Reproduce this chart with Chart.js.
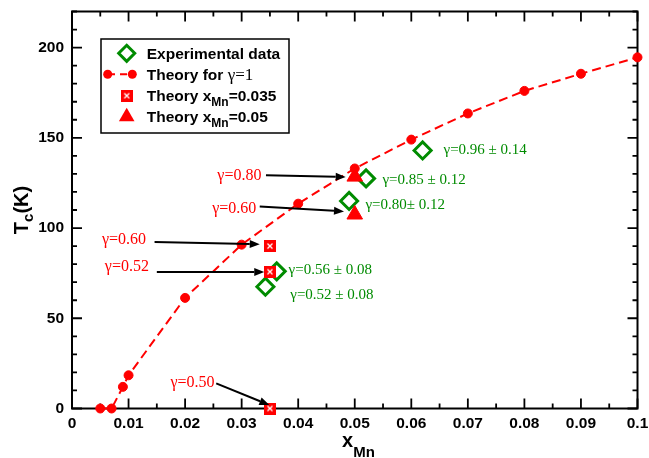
<!DOCTYPE html>
<html lang="en">
<head>
<meta charset="UTF-8">
<title>Tc vs xMn</title>
<script src="https://cdn.jsdelivr.net/npm/chart.js@4.4.1/dist/chart.umd.min.js"></script>
<style>
  body { margin: 0; background: #fff; }
</style>
</head>
<body>
<canvas id="tcChart" width="649" height="458"></canvas>
<script>
// theory for gamma = 1
const theoryX  = [0.005, 0.007, 0.009, 0.01, 0.02, 0.03, 0.04, 0.05, 0.06, 0.07, 0.08, 0.09, 0.1];
const theoryTc = [0, 0, 12, 18.4, 61.3, 90.8, 113.5, 133, 149, 163.5, 176, 185.5, 194.6];
// experimental data
const expX  = [0.0342, 0.0362, 0.049, 0.052, 0.062];
const expTc = [67.5, 76, 115, 127.5, 143];
// theory at fixed xMn
const x035X  = [0.035, 0.035, 0.035];
const x035Tc = [90, 75.8, 0];
const x05X   = [0.05, 0.05];
const x05Tc  = [128.5, 107.5];
// axis range / ticks
const xMin = 0, xMax = 0.1, xStep = 0.005;
const yMin = 0, yMax = 220, yStep = 10;

// annotations (data coordinates)
const arrows = [
  { from: [0.0343, 129.3], to: [0.0484, 128.3] },
  { from: [0.0332, 112.0], to: [0.0481, 109.2] },
  { from: [0.0146, 92.3],  to: [0.0332, 91.0] },
  { from: [0.0150, 75.7],  to: [0.0340, 75.7] },
  { from: [0.0255, 13.9],  to: [0.0349, 1.9] }
];
const redNotes = [
  { text: 'γ=0.80', x: 0.0335, y: 129.2 },
  { text: 'γ=0.60', x: 0.0326, y: 110.5 },
  { text: 'γ=0.60', x: 0.0131, y: 93.3 },
  { text: 'γ=0.52', x: 0.0136, y: 78.5 },
  { text: 'γ=0.50', x: 0.0252, y: 14.5 }
];
const greenNotes = [
  { text: 'γ=0.96 ± 0.14', x: 0.0657, y: 143 },
  { text: 'γ=0.85 ± 0.12', x: 0.0549, y: 126.5 },
  { text: 'γ=0.80± 0.12',  x: 0.0519, y: 112.6 },
  { text: 'γ=0.56 ± 0.08', x: 0.0383, y: 76.7 },
  { text: 'γ=0.52 ± 0.08', x: 0.0386, y: 62.8 }
];

const RED = '#ff0000';
const GREEN = '#008b00';
const SANS = "'Liberation Sans', Arial, sans-serif";
const SERIF = "'Liberation Serif', 'Times New Roman', serif";

function pts(xs, ys) {
  return xs.map((x, i) => ({ x: x, y: ys[i] }));
}

// little red square with white cross pattern
function squareMark(size) {
  const c = document.createElement('canvas');
  c.width = size; c.height = size;
  const g = c.getContext('2d');
  g.fillStyle = RED;
  g.fillRect(0, 0, size, size);
  g.strokeStyle = '#fff';
  g.lineWidth = 1.3;
  g.beginPath();
  g.moveTo(3.5, 3.5); g.lineTo(size - 3.5, size - 3.5);
  g.moveTo(size - 3.5, 3.5); g.lineTo(3.5, size - 3.5);
  g.stroke();
  return c;
}
const sqImg = squareMark(12);

// draw a run of text pieces (for subscripts)
function drawRich(ctx, parts, x, y) {
  let cx = x;
  parts.forEach(p => {
    ctx.font = p.font;
    ctx.fillText(p.t, cx, y + (p.dy || 0));
    cx += ctx.measureText(p.t).width;
  });
  return cx - x;
}
function richWidth(ctx, parts) {
  let w = 0;
  parts.forEach(p => { ctx.font = p.font; w += ctx.measureText(p.t).width; });
  return w;
}

// frame + inward ticks on all four sides
const frameTicks = {
  id: 'frameTicks',
  beforeDatasetsDraw(chart) {
    const ctx = chart.ctx, a = chart.chartArea;
    const xs = chart.scales.x, ys = chart.scales.y;
    ctx.save();
    ctx.strokeStyle = '#000';
    ctx.lineWidth = 2;
    ctx.strokeRect(a.left, a.top, a.right - a.left, a.bottom - a.top);
    ctx.lineWidth = 1.8;
    ctx.beginPath();
    xs.ticks.forEach(t => {
      const px = xs.getPixelForValue(t.value);
      const len = t.label !== '' ? 10 : 5;
      ctx.moveTo(px, a.bottom); ctx.lineTo(px, a.bottom - len);
      ctx.moveTo(px, a.top); ctx.lineTo(px, a.top + len);
    });
    ys.ticks.forEach(t => {
      const py = ys.getPixelForValue(t.value);
      const len = t.label !== '' ? 10 : 5;
      ctx.moveTo(a.left, py); ctx.lineTo(a.left + len, py);
      ctx.moveTo(a.right, py); ctx.lineTo(a.right - len, py);
    });
    ctx.stroke();
    ctx.restore();
  }
};

// arrows, labels, legend, axis titles
const extras = {
  id: 'extras',
  afterDraw(chart) {
    const ctx = chart.ctx;
    const xs = chart.scales.x, ys = chart.scales.y;
    ctx.save();

    // arrows
    ctx.strokeStyle = '#000';
    ctx.fillStyle = '#000';
    ctx.lineWidth = 2;
    arrows.forEach(ar => {
      const x1 = xs.getPixelForValue(ar.from[0]), y1 = ys.getPixelForValue(ar.from[1]);
      const x2 = xs.getPixelForValue(ar.to[0]),   y2 = ys.getPixelForValue(ar.to[1]);
      const ang = Math.atan2(y2 - y1, x2 - x1);
      const hl = 10, hw = 4;
      const bx = x2 - hl * Math.cos(ang), by = y2 - hl * Math.sin(ang);
      ctx.beginPath();
      ctx.moveTo(x1, y1); ctx.lineTo(bx, by);
      ctx.stroke();
      ctx.beginPath();
      ctx.moveTo(x2, y2);
      ctx.lineTo(bx + hw * Math.sin(ang), by - hw * Math.cos(ang));
      ctx.lineTo(bx - hw * Math.sin(ang), by + hw * Math.cos(ang));
      ctx.closePath();
      ctx.fill();
    });

    // notes
    ctx.textBaseline = 'middle';
    ctx.font = '16px ' + SERIF;
    ctx.fillStyle = RED;
    ctx.textAlign = 'right';
    redNotes.forEach(n => ctx.fillText(n.text, xs.getPixelForValue(n.x), ys.getPixelForValue(n.y)));
    ctx.font = '15px ' + SERIF;
    ctx.fillStyle = GREEN;
    ctx.textAlign = 'left';
    greenNotes.forEach(n => ctx.fillText(n.text, xs.getPixelForValue(n.x), ys.getPixelForValue(n.y)));

    // legend
    ctx.fillStyle = '#fff';
    ctx.fillRect(101, 39, 188, 94);
    ctx.strokeStyle = '#000';
    ctx.lineWidth = 1.5;
    ctx.strokeRect(101, 39, 188, 94);
    const mx = 126.7, tx = 146.7;
    const rows = [53.3, 74.3, 95.7, 116.7];
    const bold = 'bold 15.5px ' + SANS;
    const sub = 'bold 12px ' + SANS;
    // diamond
    ctx.strokeStyle = GREEN;
    ctx.lineWidth = 3;
    ctx.beginPath();
    ctx.moveTo(mx, rows[0] - 8); ctx.lineTo(mx + 8, rows[0]);
    ctx.lineTo(mx, rows[0] + 8); ctx.lineTo(mx - 8, rows[0]);
    ctx.closePath(); ctx.stroke();
    // dashed line with circles
    ctx.strokeStyle = RED;
    ctx.lineWidth = 2;
    ctx.setLineDash([7, 5]);
    ctx.beginPath(); ctx.moveTo(108, rows[1]); ctx.lineTo(132, rows[1]); ctx.stroke();
    ctx.setLineDash([]);
    ctx.fillStyle = RED;
    [107.7, 132.3].forEach(cx => { ctx.beginPath(); ctx.arc(cx, rows[1], 4.5, 0, Math.PI * 2); ctx.fill(); });
    // square
    ctx.drawImage(sqImg, mx - 6, rows[2] - 6);
    // triangle
    ctx.beginPath();
    ctx.moveTo(mx, rows[3] - 9);
    ctx.lineTo(mx + 7.8, rows[3] + 4.5);
    ctx.lineTo(mx - 7.8, rows[3] + 4.5);
    ctx.closePath(); ctx.fill();

    ctx.fillStyle = '#000';
    ctx.textAlign = 'left';
    ctx.textBaseline = 'alphabetic';
    drawRich(ctx, [{ t: 'Experimental data', font: bold }], tx, rows[0] + 6);
    drawRich(ctx, [{ t: 'Theory for ', font: bold }, { t: 'γ=1', font: '17px ' + SERIF }], tx, rows[1] + 6);
    drawRich(ctx, [{ t: 'Theory x', font: bold }, { t: 'Mn', font: sub, dy: 5 }, { t: '=0.035', font: bold }], tx, rows[2] + 5);
    drawRich(ctx, [{ t: 'Theory x', font: bold }, { t: 'Mn', font: sub, dy: 5 }, { t: '=0.05', font: bold }], tx, rows[3] + 5);

    // x axis title
    const xt = [{ t: 'x', font: 'bold 20px ' + SANS }, { t: 'Mn', font: 'bold 15px ' + SANS, dy: 10 }];
    const xw = richWidth(ctx, xt);
    const a = chart.chartArea;
    drawRich(ctx, xt, 358.5 - xw / 2, 447);

    // y axis title
    const yt = [{ t: 'T', font: 'bold 20px ' + SANS }, { t: 'c', font: 'bold 15px ' + SANS, dy: 5 }, { t: '(K)', font: 'bold 20px ' + SANS }];
    const yw = richWidth(ctx, yt);
    ctx.translate(27.5, (a.top + a.bottom) / 2 + yw / 2);
    ctx.rotate(-Math.PI / 2);
    drawRich(ctx, yt, 0, 0);

    ctx.restore();
  }
};

const tickFont = { family: SANS, weight: 'bold', size: 15.5 };

new Chart(document.getElementById('tcChart'), {
  type: 'scatter',
  data: {
    datasets: [
      {
        label: 'Theory for γ=1',
        data: pts(theoryX, theoryTc),
        showLine: true,
        tension: 0,
        borderColor: RED,
        borderWidth: 2,
        borderDash: [9, 5],
        pointStyle: 'circle',
        pointRadius: 4.5,
        pointBackgroundColor: RED,
        pointBorderColor: RED,
        pointBorderWidth: 1,
        clip: false,
        order: 4
      },
      {
        label: 'Experimental data',
        data: pts(expX, expTc),
        pointStyle: 'rectRot',
        pointRadius: 8.5,
        pointBorderWidth: 3,
        pointBorderColor: GREEN,
        pointBackgroundColor: 'rgba(0,0,0,0)',
        clip: false,
        order: 3
      },
      {
        label: 'Theory xMn=0.035',
        data: pts(x035X, x035Tc),
        pointStyle: sqImg,
        clip: false,
        order: 2
      },
      {
        label: 'Theory xMn=0.05',
        data: pts(x05X, x05Tc),
        pointStyle: 'triangle',
        pointRadius: 9,
        pointBackgroundColor: RED,
        pointBorderColor: RED,
        pointBorderWidth: 1,
        clip: false,
        order: 1
      }
    ]
  },
  options: {
    responsive: false,
    animation: false,
    layout: { padding: { top: 11, right: 10, left: 0, bottom: 0 } },
    plugins: {
      legend: { display: false },
      tooltip: { enabled: false }
    },
    scales: {
      x: {
        type: 'linear',
        min: xMin,
        max: xMax,
        grid: { display: false, drawTicks: false },
        border: { display: false },
        ticks: {
          stepSize: xStep,
          autoSkip: false,
          maxRotation: 0,
          padding: 6,
          color: '#000',
          font: tickFont,
          callback: v => {
            const k = Math.round(v * 1000);
            return k % 10 === 0 ? String(k / 1000) : '';
          }
        },
        afterFit: s => { s.height = 49.5; s.paddingLeft = 0; s.paddingRight = 0; }
      },
      y: {
        min: yMin,
        max: yMax,
        grid: { display: false, drawTicks: false },
        border: { display: false },
        ticks: {
          stepSize: yStep,
          autoSkip: false,
          padding: 8,
          color: '#000',
          font: tickFont,
          callback: v => (v % 50 === 0 ? String(v) : '')
        },
        afterFit: s => { s.width = 72; s.paddingTop = 0; s.paddingBottom = 0; }
      }
    }
  },
  plugins: [frameTicks, extras]
});
</script>
</body>
</html>
